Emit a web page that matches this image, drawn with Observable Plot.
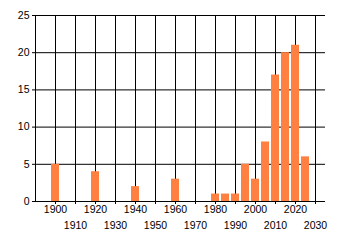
<!DOCTYPE html>
<html>
<head>
<meta charset="utf-8">
<script src="https://cdn.jsdelivr.net/npm/d3@7"></script>
<script src="https://cdn.jsdelivr.net/npm/@observablehq/plot@0.6"></script>
<style>
  html, body { margin: 0; padding: 0; background: #fff; }
</style>
</head>
<body>
<div id="chart"></div>
<script>
const years  = [1900, 1920, 1940, 1960, 1980, 1985, 1990, 1995, 2000, 2005, 2010, 2015, 2020, 2025];
const counts = [5, 4, 2, 3, 1, 1, 1, 5, 3, 8, 17, 20, 21, 6];
const xTicksRow1 = [1900, 1920, 1940, 1960, 1980, 2000, 2020];
const xTicksRow2 = [1910, 1930, 1950, 1970, 1990, 2010, 2030];
const yTicks = [0, 5, 10, 15, 20, 25];

const data = years.map((y, i) => ({year: y, count: counts[i]}));
const gridX = xTicksRow1.concat(xTicksRow2).sort((a, b) => a - b);

const chart = Plot.plot({
  width: 340,
  height: 245,
  marginLeft: 35,
  marginRight: 15,
  marginTop: 15,
  marginBottom: 44,
  style: {fontFamily: "'Liberation Sans', Arial, sans-serif", fontSize: "10.5px", color: "#000", background: "#fff"},
  x: {domain: [1890, 2035], axis: null},
  y: {domain: [0, 25], axis: null},
  marks: [
    Plot.ruleX(gridX, {y1: 0, y2: 25, stroke: "#000", strokeWidth: 1}),
    Plot.ruleY(yTicks.filter(v => v > 0), {x1: 1890, x2: 2035, stroke: "#000", strokeWidth: 1}),
    Plot.rectY(data, {x1: d => d.year - 2, x2: d => d.year + 2, y: "count", fill: "#ff8040"}),
    Plot.ruleX([1890], {y1: 0, y2: 25, stroke: "#000", strokeWidth: 1}),
    Plot.ruleY([0], {x1: 1890, x2: 2035, stroke: "#000", strokeWidth: 1}),
    Plot.axisY({ticks: yTicks, tickSize: 3, tickPadding: 3, stroke: "#000", strokeWidth: 1, fill: "#000", label: null}),
    Plot.axisX({ticks: xTicksRow1, tickSize: 3, tickPadding: 1, tickFormat: d => String(d), stroke: "#000", fill: "#000", label: null}),
    Plot.axisX({ticks: xTicksRow2, tickSize: 3, tickPadding: 17, tickFormat: d => String(d), stroke: "#000", fill: "#000", label: null})
  ]
});
document.getElementById("chart").appendChild(chart);
</script>
</body>
</html>
